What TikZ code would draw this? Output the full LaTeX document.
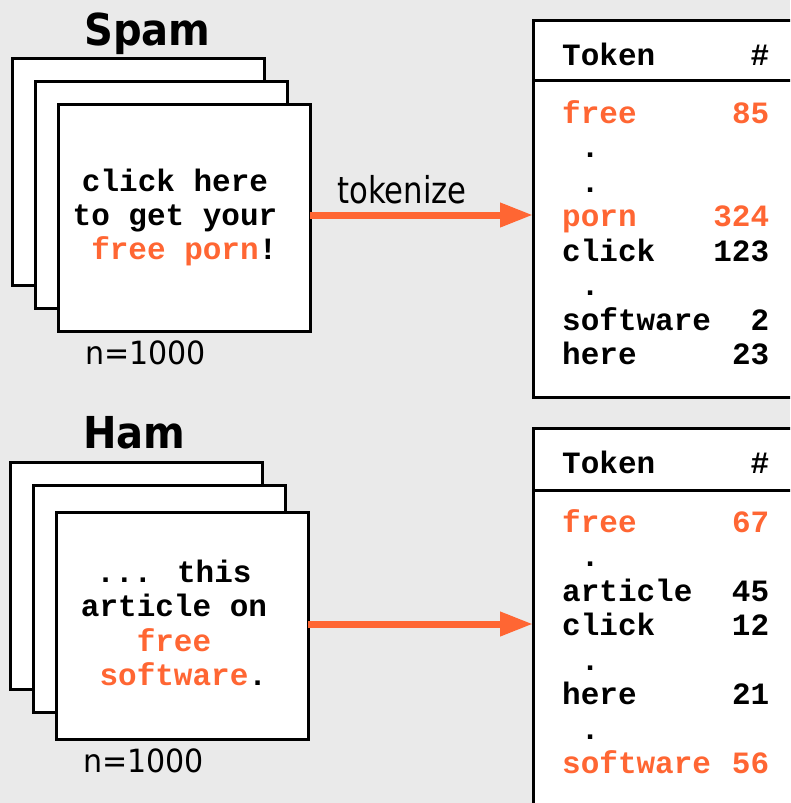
\documentclass[tikz,border=0pt]{standalone}
\usepackage{fontspec}
\setmainfont{DejaVu Sans}
\newfontfamily\titlefam{DejaVu Sans}[FakeStretch=0.91]
\newfontfamily\tokfam{DejaVu Sans}[FakeStretch=0.83]
\newfontfamily\nfam{DejaVu Sans}[FakeStretch=0.94]
\newfontfamily\monofam{Liberation Mono}
\usetikzlibrary{arrows.meta}
\definecolor{hot}{RGB}{255,102,51}
\definecolor{bgc}{RGB}{234,234,234}
\newcommand{\trow}[2]{\makebox[207pt]{#1\hfill#2}}
\tikzset{
  page/.style={draw=black, line width=3pt, fill=white, inner sep=0pt, outer sep=0pt,
    minimum width=252pt, minimum height=227pt, anchor=north west},
  tablebox/.style={draw=black, line width=3pt, fill=white, inner sep=0pt, outer sep=0pt, anchor=north west},
  mono/.style={inner sep=0pt, font={\monofam\bfseries\fontsize{31}{34}\selectfont}},
  cell/.style={mono, anchor=base west},
  line/.style={mono, anchor=base},
  title/.style={inner sep=0pt, anchor=base west, font={\titlefam\bfseries\fontsize{44}{48}\selectfont}},
  count/.style={inner sep=0pt, anchor=base west, font={\nfam\fontsize{32}{36}\selectfont}},
  flow/.style={draw=hot, line width=7pt, -{Triangle[length=33pt,width=23pt]}, shorten >=0pt}
}
\begin{document}
\begin{tikzpicture}[x=1pt,y=-1pt]
\useasboundingbox (0,0) rectangle (790,803);
\fill[bgc] (0,0) rectangle (790,803);
\clip (0,0) rectangle (790,803);

% ---------------- Spam ----------------
\node[title] (spamtitle) at (84,45) {Spam};
\node[page] (spamback) at (12,58) {};
\node[page] (spammid) at (35,81) {};
\node[page] (spamfront) at (58,104) {};
\node[line] (sl1) at (175,191) {click here};
\node[line] (sl2) at (175,225) {to get your};
\node[line] (sl3) at (175,259) {\hphantom{x}\textcolor{hot}{free porn}!};
\node[count] (spamn) at (85,364) {n=1000};

\node[tablebox, minimum width=290pt, minimum height=377pt] (spamtab) at (533,20) {};
\draw[line width=3pt] (spamtab.west |- 0,80) -- (spamtab.east |- 0,80);
\node[cell] (sh) at (562,65) {\trow{Token}{\#}};
\node[cell, text=hot] (sr1) at (562,123) {\trow{free}{85}};
\node[cell] (sr2) at (562,157.5) {\trow{\hphantom{x}.}{}};
\node[cell] (sr3) at (562,192) {\trow{\hphantom{x}.}{}};
\node[cell, text=hot] (sr4) at (562,226.5) {\trow{porn}{324}};
\node[cell] (sr5) at (562,261) {\trow{click}{123}};
\node[cell] (sr6) at (562,295.5) {\trow{\hphantom{x}.}{}};
\node[cell] (sr7) at (562,330) {\trow{software}{2}};
\node[cell] (sr8) at (562,364.5) {\trow{here}{23}};

\node[inner sep=0pt, anchor=base west, font={\tokfam\fontsize{37}{40}\selectfont}] (tok) at (337,203) {tokenize};
\draw[flow] (spamfront.east |- 0,215) -- (spamtab.west |- 0,215);

% ---------------- Ham ----------------
\node[title] (hamtitle) at (83,448) {Ham};
\node[page] (hamback) at (10,462) {};
\node[page] (hammid) at (33,485) {};
\node[page] (hamfront) at (56,512) {};
\node[line] (hl1) at (174,582) {... this};
\node[line] (hl2) at (174,616.5) {article on};
\node[line, text=hot] (hl3) at (174,651) {free};
\node[line] (hl4) at (174,685.5) {\hphantom{x}\textcolor{hot}{software}.};
\node[count] (hamn) at (83,772) {n=1000};

\node[tablebox, minimum width=290pt, minimum height=420pt] (hamtab) at (533,428) {};
\draw[line width=3pt] (hamtab.west |- 0,490) -- (hamtab.east |- 0,490);
\node[cell] (hh) at (562,473) {\trow{Token}{\#}};
\node[cell, text=hot] (hr1) at (562,532) {\trow{free}{67}};
\node[cell] (hr2) at (562,566.5) {\trow{\hphantom{x}.}{}};
\node[cell] (hr3) at (562,601) {\trow{article}{45}};
\node[cell] (hr4) at (562,635.5) {\trow{click}{12}};
\node[cell] (hr5) at (562,670) {\trow{\hphantom{x}.}{}};
\node[cell] (hr6) at (562,704.5) {\trow{here}{21}};
\node[cell] (hr7) at (562,739) {\trow{\hphantom{x}.}{}};
\node[cell, text=hot] (hr8) at (562,773.5) {\trow{software}{56}};

\draw[flow] (hamfront.east |- 0,624) -- (hamtab.west |- 0,624);
\end{tikzpicture}
\end{document}
